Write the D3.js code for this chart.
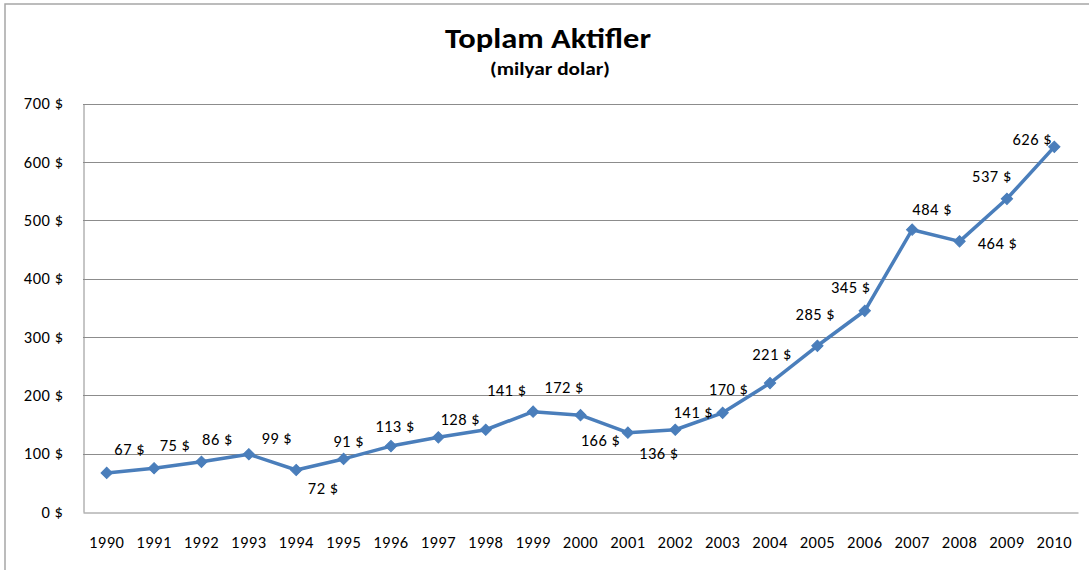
<!DOCTYPE html>
<html>
<head>
<meta charset="utf-8">
<script src="https://cdn.jsdelivr.net/npm/d3@7"></script>
<style>
  html, body { margin: 0; padding: 0; background: #fff; }
  svg { display: block; }
  text { font-family: Carlito, Calibri, "Open Sans", sans-serif; }
</style>
</head>
<body>
<svg id="chart" width="1089" height="570"></svg>
<script>
const years = ["1990","1991","1992","1993","1994","1995","1996","1997","1998","1999","2000",
               "2001","2002","2003","2004","2005","2006","2007","2008","2009","2010"];
const assets = [67, 75, 86, 99, 72, 91, 113, 128, 141, 172, 166,
                136, 141, 170, 221, 285, 345, 484, 464, 537, 626];
const yTicks = [0, 100, 200, 300, 400, 500, 600, 700];
const titleText = "Toplam Aktifler";
const subtitleText = "(milyar dolar)";
// label placement relative to each marker (dx, dy) in px
const labelDX = [23, 21, 16, 28, 27, 5, 4, 22, 21, 31, 20, 31, 18, 6, 2, -2, -14, 20, 38, -15, -22];
const labelDY = [-24, -23, -23, -16, 18, -18, -20, -18, -40, -24, 25, 21, -18, -24, -29, -32, -24, -20, 2, -23, -8];

const svg = d3.select("#chart");
const W = 1089, H = 570;
const plot = { left: 83, right: 1078, top: 103.7, bottom: 512 };
const FS = 16.5, LS = "0.5px";

// outer chart border
svg.append("rect")
  .attr("x", 5).attr("y", 4)
  .attr("width", W + 10).attr("height", H + 10)
  .attr("fill", "#fff").attr("stroke", "#a6a6a6").attr("stroke-width", 1.5);

const x = d3.scaleBand().domain(years).range([plot.left, plot.right]).paddingInner(0).paddingOuter(0);
const y = d3.scaleLinear().domain([0, 700]).range([plot.bottom, plot.top]);

// gridlines
svg.append("g").selectAll("line").data(yTicks.filter(d => d > 0)).join("line")
  .attr("x1", plot.left).attr("x2", plot.right)
  .attr("y1", d => Math.round(y(d)) + 0.5).attr("y2", d => Math.round(y(d)) + 0.5)
  .attr("stroke", "#8c8c8c").attr("stroke-width", 1);

// y axis
const yAxis = svg.append("g")
  .attr("transform", `translate(${plot.left + 0.5},0)`)
  .call(d3.axisLeft(y).tickValues(yTicks).tickSize(0).tickPadding(20).tickFormat(d => d + " $"));
yAxis.select(".domain").attr("stroke", "#8c8c8c");
yAxis.selectAll("text").attr("font-size", FS).attr("letter-spacing", LS).attr("fill", "#000");

// x axis
const xAxis = svg.append("g")
  .attr("transform", `translate(0,${Math.round(plot.bottom) + 0.5})`)
  .call(d3.axisBottom(x).tickSize(0).tickPadding(24));
xAxis.select(".domain").attr("stroke", "#8c8c8c");
xAxis.selectAll("text").attr("font-size", FS).attr("letter-spacing", LS).attr("fill", "#000");

// line
const cx = d => x(d) + x.bandwidth() / 2;
const line = d3.line().x((d, i) => cx(years[i])).y(d => y(d));
svg.append("path").datum(assets)
  .attr("d", line)
  .attr("fill", "none").attr("stroke", "#4a7ebb").attr("stroke-width", 3.5)
  .attr("stroke-linejoin", "round");

// diamond markers
svg.append("g").selectAll("path").data(assets).join("path")
  .attr("d", d3.symbol().type(d3.symbolSquare).size(64))
  .attr("transform", (d, i) => `translate(${cx(years[i])},${y(d)}) rotate(45)`)
  .attr("fill", "#4a7ebb").attr("stroke", "#4a7ebb").attr("stroke-width", 1);

// data labels
svg.append("g").selectAll("text").data(assets).join("text")
  .attr("x", (d, i) => cx(years[i]) + labelDX[i])
  .attr("y", (d, i) => y(d) + labelDY[i])
  .attr("dy", "0.35em")
  .attr("text-anchor", "middle")
  .attr("font-size", FS).attr("letter-spacing", LS).attr("fill", "#000")
  .text(d => d + " $");

// titles
svg.append("text").attr("x", 548).attr("y", 48).attr("text-anchor", "middle")
  .attr("font-size", 29).attr("font-weight", "bold").attr("fill", "#000")
  .attr("textLength", 206).attr("lengthAdjust", "spacingAndGlyphs")
  .text(titleText);
svg.append("text").attr("x", 550).attr("y", 75).attr("text-anchor", "middle")
  .attr("font-size", 18).attr("font-weight", "bold").attr("fill", "#000")
  .attr("textLength", 120).attr("lengthAdjust", "spacingAndGlyphs")
  .text(subtitleText);
</script>
</body>
</html>
